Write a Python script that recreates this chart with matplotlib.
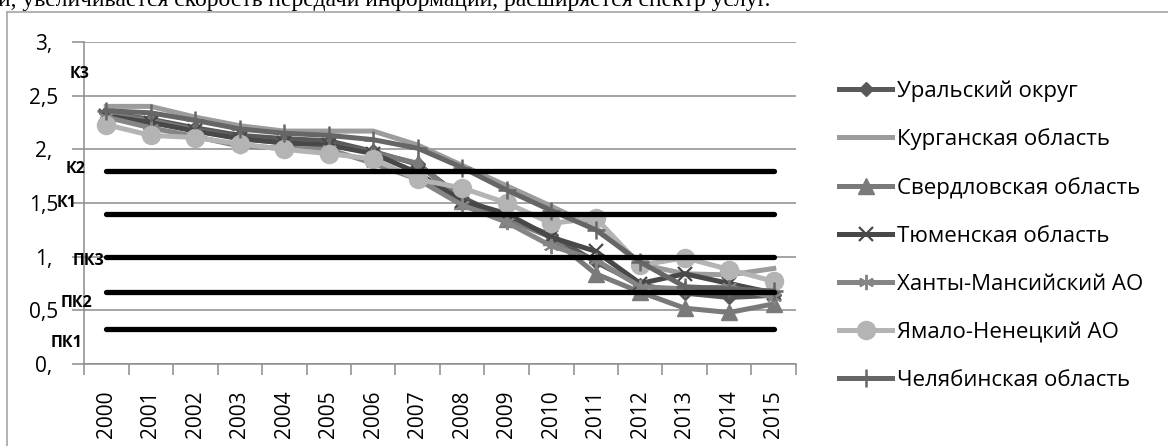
import numpy as np
import matplotlib.pyplot as plt
from matplotlib.lines import Line2D

plt.rcParams['font.family'] = ['Open Sans', 'DejaVu Sans']

years = [str(y) for y in range(2000, 2016)]

ural = [2.34, 2.28, 2.20, 2.13, 2.10, 2.08, 1.98, 1.86, 1.55, 1.36, 1.20, 0.95, 0.74, 0.66, 0.62, 0.64]
kurgan = [2.40, 2.40, 2.30, 2.22, 2.17, 2.17, 2.17, 2.04, 1.85, 1.66, 1.47, 1.27, 0.93, 0.84, 0.83, 0.89]
sverdl = [2.33, 2.27, 2.18, 2.10, 2.06, 2.04, 1.97, 1.87, 1.52, 1.35, 1.18, 0.84, 0.67, 0.52, 0.48, 0.56]
tyumen = [2.31, 2.25, 2.17, 2.10, 2.06, 2.04, 1.96, 1.78, 1.52, 1.40, 1.18, 1.05, 0.75, 0.84, 0.75, 0.66]
hmao = [2.30, 2.20, 2.12, 2.03, 2.01, 2.00, 1.87, 1.72, 1.48, 1.32, 1.10, 0.97, 0.72, 0.70, 0.72, 0.62]
yanao = [2.23, 2.13, 2.11, 2.05, 2.00, 1.96, 1.91, 1.72, 1.64, 1.50, 1.31, 1.36, 0.92, 0.99, 0.88, 0.77]
chel = [2.36, 2.34, 2.27, 2.19, 2.15, 2.13, 2.09, 2.01, 1.83, 1.62, 1.43, 1.25, 0.95, 0.72, 0.70, 0.68]

names = ['Уральский округ', 'Курганская область', 'Свердловская область',
         'Тюменская область', 'Ханты-Мансийский АО', 'Ямало-Ненецкий АО',
         'Челябинская область']

# пороговые уровни (горизонтальные чёрные линии)
levels = [1.8, 1.4, 1.0, 0.67, 0.33]
level_names = ['К3', 'К2', 'К1', 'ПК3', 'ПК2', 'ПК1']
level_label_y = [2.70, 1.82, 1.50, 0.96, 0.57, 0.20]
level_label_x = [-0.61, -0.68, -0.88, -0.41, -0.66, -0.90]

yticks = [0, 0.5, 1, 1.5, 2, 2.5, 3]
ytick_labels = ['0,', '0,5', '1,', '1,5', '2,', '2,5', '3,']

W, H = 1168, 446
fig = plt.figure(figsize=(W / 100, H / 100), dpi=100)
ax = fig.add_axes([84 / W, 1 - 364 / H, (796 - 84) / W, (364 - 42) / H])

x = np.arange(len(years))
styles = [
    dict(color='#595959', marker='D', ms=7),
    dict(color='#9c9c9c', marker=None),
    dict(color='#7a7a7a', marker='^', ms=11),
    dict(color='#484848', marker='x', ms=10, mew=1.6),
    dict(color='#858585', marker=(6, 2, 0), ms=11, mew=1.4),
    dict(color='#b4b4b4', marker='o', ms=13),
    dict(color='#666666', marker='+', ms=13, mew=1.8),
]
series = [ural, kurgan, sverdl, tyumen, hmao, yanao, chel]
for vals, name, st in zip(series, names, styles):
    ax.plot(x, vals, lw=3.6, label=name, solid_joinstyle='round', **st)

for lv in levels:
    ax.plot([x[0], x[-1]], [lv, lv], color='black', lw=3.8,
            solid_capstyle='round', zorder=5)

for t, lx, ly in zip(level_names, level_label_x, level_label_y):
    ax.text(lx, ly, t, fontsize=11.5, fontweight='bold', ha='center',
            va='center', clip_on=False, zorder=6)

ax.set_xlim(-0.5, len(years) - 0.5)
ax.set_ylim(0, 3)
ax.set_yticks(yticks)
ax.set_yticklabels(ytick_labels)
ax.set_xticks(x)
ax.set_xticklabels(years, rotation=90)
ax.set_xticks(np.arange(len(years) + 1) - 0.5, minor=True)
ax.tick_params(axis='x', which='major', length=0, pad=19, labelsize=15)
ax.tick_params(axis='x', which='minor', length=8, width=1.1, color='#8c8c8c')
ax.tick_params(axis='y', length=9, width=1.1, color='#8c8c8c', pad=20,
               labelsize=15)
for lab in ax.get_yticklabels():
    lab.set_ha('center')

ax.grid(axis='y', color='#8c8c8c', lw=1.1)
ax.set_axisbelow(True)
for side in ['top', 'right']:
    ax.spines[side].set_visible(False)
for side in ['left', 'bottom']:
    ax.spines[side].set_color('#8c8c8c')
    ax.spines[side].set_linewidth(1.1)

fig.legend(loc='upper left', bbox_to_anchor=(839 / W, 1 - 80 / H),
           frameon=False, fontsize=16, handlelength=2.4, handletextpad=0.23,
           labelspacing=1.21, borderpad=0, borderaxespad=0)

# рамка области диаграммы
fig.add_artist(Line2D([7 / W, 7 / W], [0, 1 - 12 / H], transform=fig.transFigure,
                      color='#a6a6a6', lw=1.2))
fig.add_artist(Line2D([7 / W, 1], [1 - 12 / H, 1 - 12 / H], transform=fig.transFigure,
                      color='#a6a6a6', lw=1.2))

fig.text(-2 / W, 1 - 6 / H,
         'и, увеличивается скорость передачи информации, расширяется спектр услуг.',
         family='Liberation Serif', fontsize=17, ha='left', va='baseline')

fig.savefig('out.png', dpi=100)
